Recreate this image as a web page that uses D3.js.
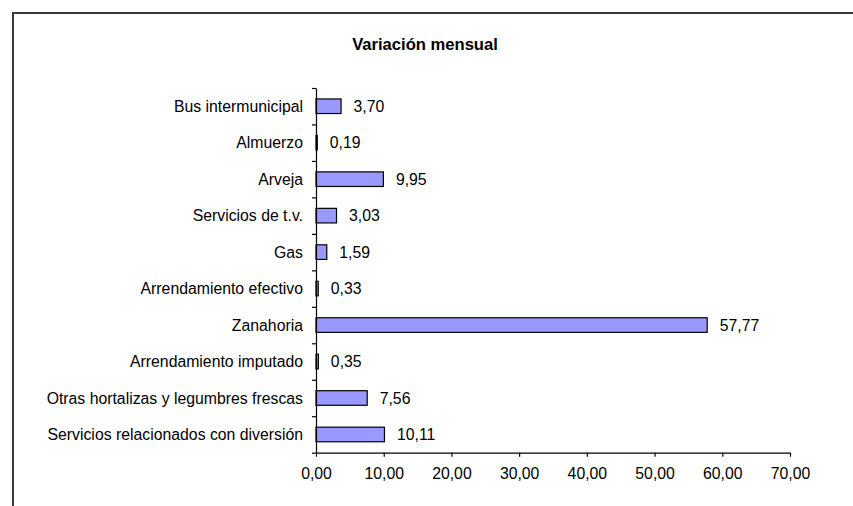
<!DOCTYPE html>
<html>
<head>
<meta charset="utf-8">
<script src="https://cdn.jsdelivr.net/npm/d3@7"></script>
<style>
  body { margin: 0; background: #fff; }
  svg text { font-family: "Liberation Sans", Arial, sans-serif; }
</style>
</head>
<body>
<div id="container"></div>
<script>
const categories = ["Bus intermunicipal", "Almuerzo", "Arveja", "Servicios de t.v.", "Gas",
                    "Arrendamiento efectivo", "Zanahoria", "Arrendamiento imputado",
                    "Otras hortalizas y legumbres frescas", "Servicios relacionados con diversión"]
const values = [3.70, 0.19, 9.95, 3.03, 1.59, 0.33, 57.77, 0.35, 7.56, 10.11]
const xTicks = [0, 10, 20, 30, 40, 50, 60, 70]

const width = 853
const height = 506
const plotLeft = 316, plotRight = 790, plotTop = 88, plotBottom = 452.7
const fontSize = 15.8

const locale = d3.formatLocale({decimal: ",", thousands: ".", grouping: [3], currency: ["", ""]})
const fmt = locale.format(".2f")

const svg = d3.select("#container").append("svg")
              .attr("width", width)
              .attr("height", height)

// frame (cut off right and bottom)
svg.append("path")
   .attr("d", `M13,${height} V13 H${width}`)
   .attr("fill", "none")
   .attr("stroke", "#3a3a3a")
   .attr("stroke-width", 2)

svg.append("text")
   .attr("x", 425)
   .attr("y", 50)
   .attr("text-anchor", "middle")
   .attr("font-weight", "bold")
   .attr("font-size", 16.6)
   .text("Variación mensual")

const xScale = d3.scaleLinear().domain([0, 70]).range([plotLeft, plotRight])
const yScale = d3.scaleBand().domain(categories).range([plotTop, plotBottom])
                 .paddingInner(0.6).paddingOuter(0.3)
const yEdge = d3.scaleLinear().domain([0, categories.length]).range([plotTop, plotBottom])

svg.selectAll("rect.bar")
   .data(categories)
   .enter()
   .append("rect")
   .attr("class", "bar")
   .attr("x", xScale(0))
   .attr("y", d => yScale(d))
   .attr("width", (d, i) => xScale(values[i]) - xScale(0))
   .attr("height", yScale.bandwidth())
   .attr("fill", "#9999ff")
   .attr("stroke", "#000")
   .attr("stroke-width", 1.2)

svg.selectAll("text.val")
   .data(categories)
   .enter()
   .append("text")
   .attr("class", "val")
   .attr("x", (d, i) => xScale(values[i]) + 12.5)
   .attr("y", d => yScale(d) + yScale.bandwidth() / 2)
   .attr("dy", "0.36em")
   .attr("font-size", fontSize)
   .text((d, i) => fmt(values[i]))

svg.selectAll("text.cat")
   .data(categories)
   .enter()
   .append("text")
   .attr("class", "cat")
   .attr("x", plotLeft - 13)
   .attr("y", d => yScale(d) + yScale.bandwidth() / 2)
   .attr("dy", "0.36em")
   .attr("text-anchor", "end")
   .attr("font-size", fontSize)
   .text(d => d)

/* axes */
const xAxis = d3.axisBottom(xScale)
                .tickValues(xTicks)
                .tickSize(4)
                .tickSizeOuter(0)
                .tickPadding(11)
                .tickFormat(fmt)
const yAxis = d3.axisLeft(yEdge)
                .tickValues(d3.range(categories.length + 1))
                .tickSize(4)
                .tickSizeOuter(0)
                .tickFormat("")

svg.append("g")
   .attr("transform", `translate(0, ${plotBottom})`)
   .call(xAxis)
svg.append("g")
   .attr("transform", `translate(${plotLeft}, 0)`)
   .call(yAxis)

svg.selectAll(".tick text")
   .attr("font-size", fontSize)
   .attr("fill", "#000")
   .style("font-family", '"Liberation Sans", Arial, sans-serif')
svg.selectAll(".domain, .tick line")
   .attr("stroke", "#000")
   .attr("stroke-width", 1.2)
</script>
</body>
</html>
